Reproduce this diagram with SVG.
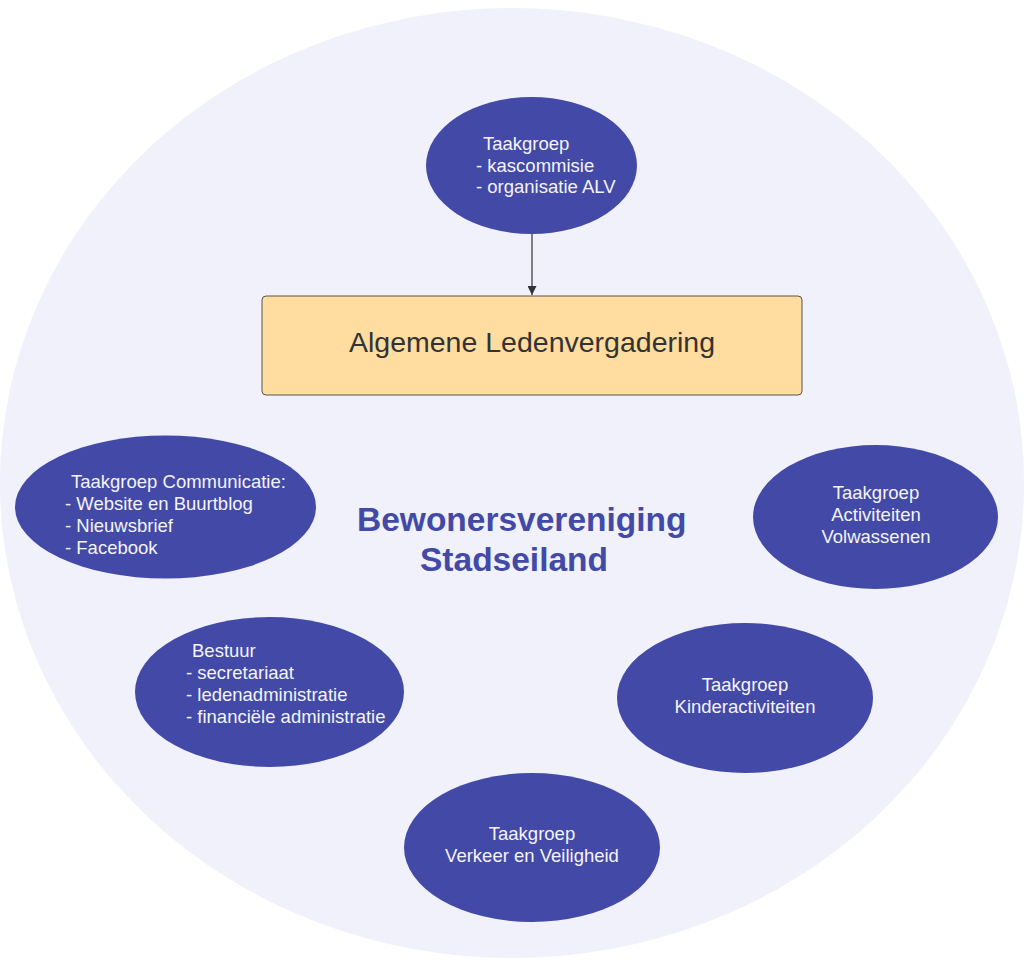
<svg xmlns="http://www.w3.org/2000/svg" width="1024" height="966" viewBox="0 0 1024 966">
<defs>
<style>
.bg{fill:#F0F1FA}
.node{fill:#4349A7}
.nt{font-family:"Liberation Sans",Arial,sans-serif;font-size:18.5px;fill:#F4F4FA}
.c{text-anchor:middle}
.title{font-family:"Liberation Sans",Arial,sans-serif;font-size:33.5px;font-weight:bold;fill:#4349A7}
.conn{stroke:#333333;stroke-width:1.2;fill:none}
</style>
<marker id="arr" viewBox="0 0 10 10" refX="10" refY="5" markerWidth="9" markerHeight="9" markerUnits="userSpaceOnUse" orient="auto">
<path d="M0,0 L10,5 L0,10 Z" fill="#333333"/>
</marker>
</defs>
<rect width="1024" height="966" fill="#FFFFFF"/>
<ellipse class="bg" cx="512" cy="483" rx="512" ry="475"/>
<g id="connectors">
<line class="conn" x1="532" y1="234" x2="532" y2="295" marker-end="url(#arr)"/>
</g>
<g id="node-kascommissie">
<ellipse class="node" cx="531.5" cy="165.5" rx="105.5" ry="68.5"/>
<text class="nt" x="483" y="150">Taakgroep</text>
<text class="nt" x="476" y="172">- kascommisie</text>
<text class="nt" x="476" y="193">- organisatie ALV</text>
</g>
<g id="node-alv">
<rect x="262" y="296" width="540" height="99" rx="4" fill="#FFDCA0" stroke="#555555" stroke-width="1"/>
<text x="532" y="352" text-anchor="middle" font-family="Liberation Sans,Arial,sans-serif" font-size="28.5" fill="#333333">Algemene Ledenvergadering</text>
</g>
<g id="title">
<text class="title" x="357" y="531">Bewonersvereniging</text>
<text class="title" x="420" y="571">Stadseiland</text>
</g>
<g id="node-communicatie">
<ellipse class="node" cx="165.5" cy="507" rx="150.5" ry="71.5"/>
<text class="nt" x="71" y="488">Taakgroep Communicatie:</text>
<text class="nt" x="65" y="510">- Website en Buurtblog</text>
<text class="nt" x="65" y="532">- Nieuwsbrief</text>
<text class="nt" x="65" y="554">- Facebook</text>
</g>
<g id="node-bestuur">
<ellipse class="node" cx="269.5" cy="692" rx="134.5" ry="75"/>
<text class="nt" x="192" y="657">Bestuur</text>
<text class="nt" x="186" y="679">- secretariaat</text>
<text class="nt" x="186" y="701">- ledenadministratie</text>
<text class="nt" x="186" y="723">- financiële administratie</text>
</g>
<g id="node-volwassenen">
<ellipse class="node" cx="875.5" cy="517" rx="122.5" ry="72"/>
<text class="nt c" x="876" y="499">Taakgroep</text>
<text class="nt c" x="876" y="521">Activiteiten</text>
<text class="nt c" x="876" y="543">Volwassenen</text>
</g>
<g id="node-kinder">
<ellipse class="node" cx="745" cy="698" rx="128" ry="75"/>
<text class="nt c" x="745" y="691">Taakgroep</text>
<text class="nt c" x="745" y="713">Kinderactiviteiten</text>
</g>
<g id="node-verkeer">
<ellipse class="node" cx="532" cy="847.5" rx="128" ry="74.5"/>
<text class="nt c" x="532" y="840">Taakgroep</text>
<text class="nt c" x="532" y="862">Verkeer en Veiligheid</text>
</g>
</svg>
